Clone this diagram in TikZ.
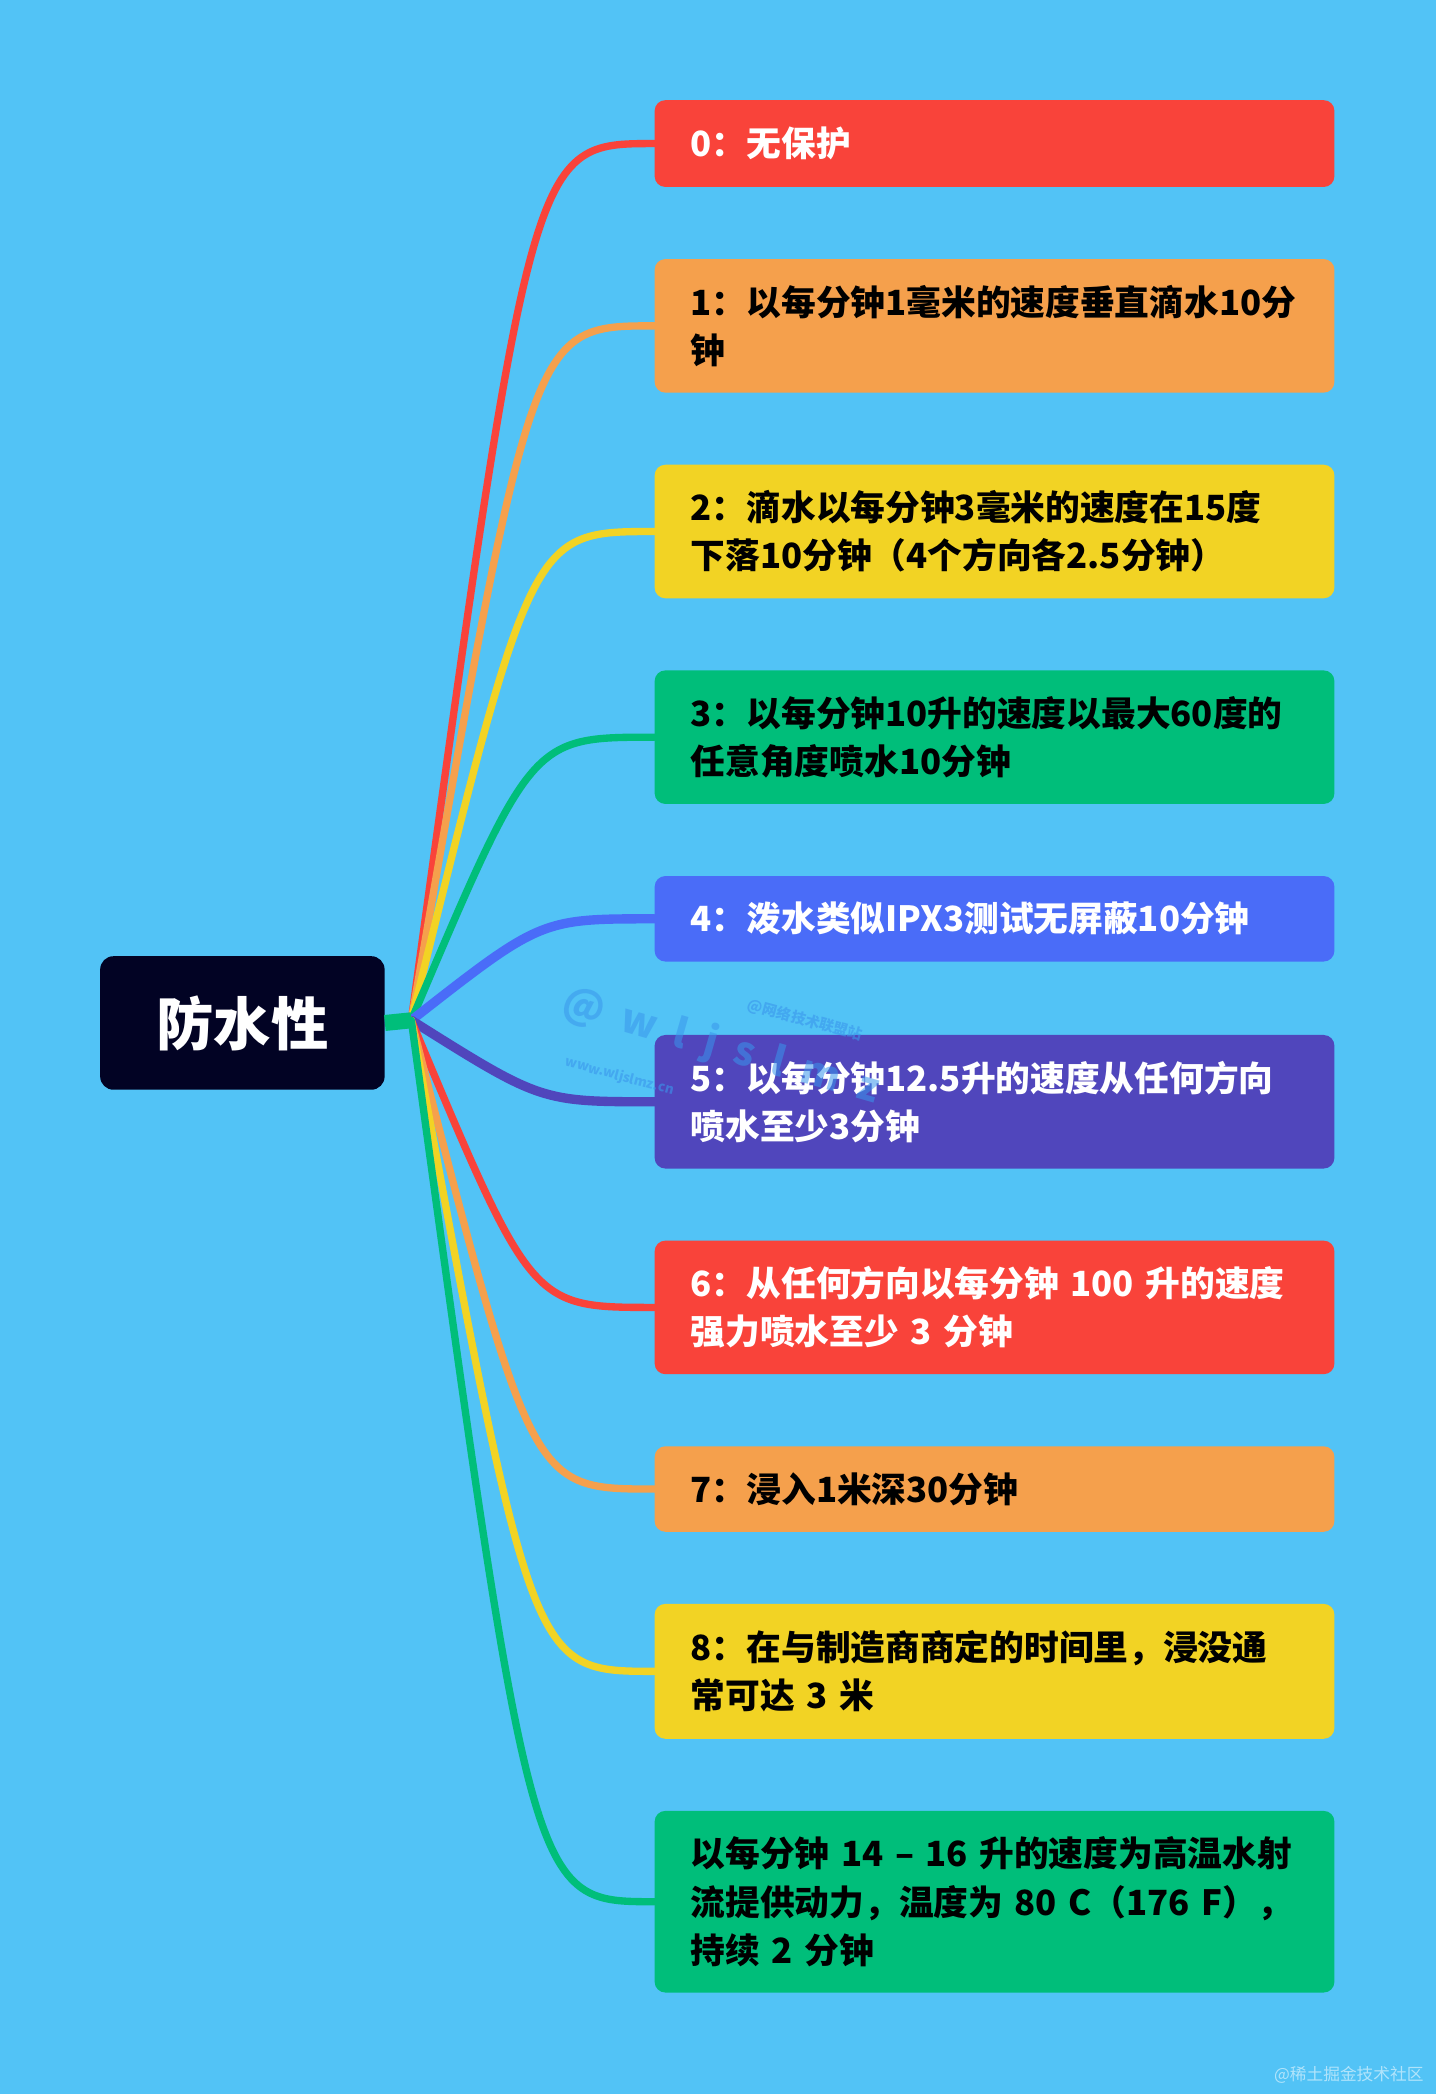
\documentclass[tikz,border=0pt]{standalone}
\usepackage{fontspec}
\setmainfont{Noto Sans CJK SC}
\usetikzlibrary{calc}
\definecolor{bgblue}{RGB}{82,195,246}
\definecolor{cred}{RGB}{249,67,58}
\definecolor{corange}{RGB}{245,160,76}
\definecolor{cyellow}{RGB}{242,211,36}
\definecolor{cgreen}{RGB}{0,190,122}
\definecolor{cblue}{RGB}{74,108,248}
\definecolor{cindigo}{RGB}{80,70,188}
\definecolor{cnavy}{RGB}{2,3,36}
\definecolor{wmblue}{RGB}{58,150,236}
\tikzset{
  leaf/.style={anchor=west, rounded corners=8pt, minimum width=509pt, text width=455pt,
    inner xsep=27pt, inner ysep=0pt, align=left, font=\fontsize{26}{36}\selectfont\bfseries},
  br/.style={line width=5.5pt, line cap=round},
  brthick/.style={line width=7pt, line cap=round},
}
\begin{document}
\begin{tikzpicture}[x=1pt,y=-1pt]
\fill[bgblue] (0,0) rectangle (1075,1568);
\useasboundingbox (0,0) rectangle (1075,1568);

% root
\node[fill=cnavy, rounded corners=10pt, minimum width=213pt, minimum height=100pt, inner sep=0pt,
  text=white, font=\fontsize{43}{50}\selectfont\bfseries] (root) at (181.5,766) {防水性};
\coordinate (hub) at (308,764);

% leaves
\node[leaf, fill=cred, text=white, minimum height=65pt] (b0) at (490,107.5) {0：无保护};
\node[leaf, fill=corange, text=black, minimum height=100pt] (b1) at (490,244) {1：以每分钟1毫米的速度垂直滴水10分\\钟};
\node[leaf, fill=cyellow, text=black, minimum height=100pt] (b2) at (490,398) {2：滴水以每分钟3毫米的速度在15度\\下落10分钟（4个方向各2.5分钟）};
\node[leaf, fill=cgreen, text=black, minimum height=100pt] (b3) at (490,552) {3：以每分钟10升的速度以最大60度的\\任意角度喷水10分钟};
\node[leaf, fill=cblue, text=white, minimum height=64pt] (b4) at (490,688) {4：泼水类似IPX3测试无屏蔽10分钟};
\node[leaf, fill=cindigo, text=white, minimum height=100pt] (b5) at (490,825) {5：以每分钟12.5升的速度从任何方向\\喷水至少3分钟};
\node[leaf, fill=cred, text=white, minimum height=100pt] (b6) at (490,979) {6：从任何方向以每分钟 100 升的速度\\强力喷水至少 3 分钟};
\node[leaf, fill=corange, text=black, minimum height=64pt] (b7) at (490,1115) {7：浸入1米深30分钟};
\node[leaf, fill=cyellow, text=black, minimum height=101pt] (b8) at (490,1251.5) {8：在与制造商商定的时间里，浸没通\\常可达 3 米};
\node[leaf, fill=cgreen, text=black, minimum height=136pt] (b9) at (490,1424) {以每分钟 14 – 16 升的速度为高温水射\\流提供动力，温度为 80 C（176 F），\\持续 2 分钟};

% connectors
\draw[br, cred] (hub) .. controls ($(b0.west)+(-92,0)$) and ($(b0.west)+(-92,0)$) .. (b0.west);
\draw[br, corange] (hub) .. controls ($(b1.west)+(-92,0)$) and ($(b1.west)+(-92,0)$) .. (b1.west);
\draw[br, cyellow] (hub) .. controls ($(b2.west)+(-92,0)$) and ($(b2.west)+(-92,0)$) .. (b2.west);
\draw[br, cgreen] (hub) .. controls ($(b3.west)+(-92,0)$) and ($(b3.west)+(-92,0)$) .. (b3.west);
\draw[brthick, cblue] (hub) .. controls ($(b4.west)+(-85,0)$) and ($(b4.west)+(-85,0)$) .. (b4.west);
\draw[brthick, cindigo] (hub) .. controls ($(b5.west)+(-85,0)$) and ($(b5.west)+(-85,0)$) .. (b5.west);
\draw[br, cred] (hub) .. controls ($(b6.west)+(-92,0)$) and ($(b6.west)+(-92,0)$) .. (b6.west);
\draw[br, corange] (hub) .. controls ($(b7.west)+(-92,0)$) and ($(b7.west)+(-92,0)$) .. (b7.west);
\draw[br, cyellow] (hub) .. controls ($(b8.west)+(-92,0)$) and ($(b8.west)+(-92,0)$) .. (b8.west);
\draw[br, cgreen] (hub) .. controls ($(b9.west)+(-92,0)$) and ($(b9.west)+(-92,0)$) .. (b9.west);
\draw[line width=12pt, cgreen] (root.east) -- (hub);

% watermarks
\node[text=wmblue, opacity=0.55, rotate=-16, font=\fontsize{30}{32}\selectfont\bfseries] (wm1) at (540,784) {@\ \ w\ \ l\ \ j\ \ s\ \ l\ \ m\ \ z};
\node[text=wmblue, opacity=0.6, rotate=-15, font=\fontsize{10}{12}\selectfont\bfseries] (wm2) at (464,806) {www.wljslmz.cn};
\node[text=wmblue, opacity=0.6, rotate=-15, font=\fontsize{11}{13}\selectfont\bfseries] (wm3) at (603,764) {@网络技术联盟站};
\node[text=white, opacity=0.55, font=\fontsize{12.5}{14}\selectfont] (wm4) at (1010,1554) {@稀土掘金技术社区};
\end{tikzpicture}
\end{document}
